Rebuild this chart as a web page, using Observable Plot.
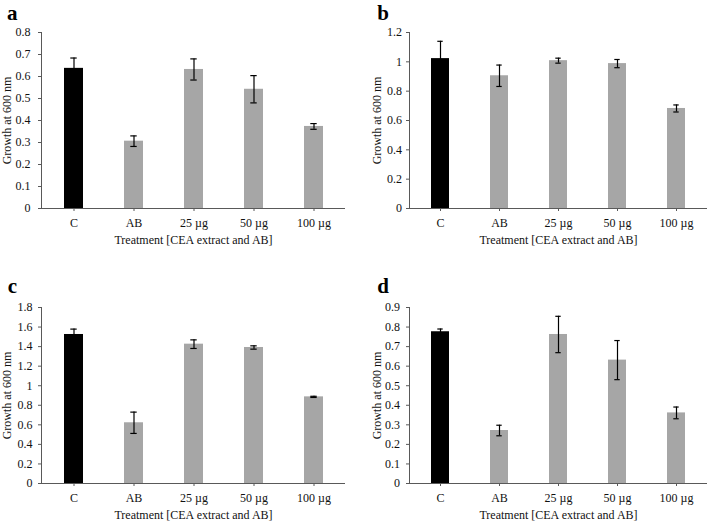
<!DOCTYPE html>
<html>
<head>
<meta charset="utf-8">
<script src="https://cdn.jsdelivr.net/npm/d3@7"></script>
<script src="https://cdn.jsdelivr.net/npm/@observablehq/plot@0.6"></script>
<style>
  html, body { margin: 0; padding: 0; background: #fff; }
  #chart { position: relative; width: 709px; height: 522px; background: #fff; overflow: hidden; }
  #chart svg { position: absolute; }
</style>
</head>
<body>
<div id="chart"></div>
<script>
// Categories (x axis tick labels)
const categories = ["C", "AB", "25 µg", "50 µg", "100 µg"];

// Panel a
const growthA = [0.637, 0.306, 0.632, 0.542, 0.373];
const errA    = [0.047, 0.024, 0.048, 0.062, 0.013];
const yTicksA = [0, 0.1, 0.2, 0.3, 0.4, 0.5, 0.6, 0.7, 0.8];

// Panel b
const growthB = [1.022, 0.905, 1.008, 0.988, 0.682];
const errB    = [0.118, 0.073, 0.017, 0.028, 0.024];
const yTicksB = [0, 0.2, 0.4, 0.6, 0.8, 1, 1.2];

// Panel c
const growthC = [1.524, 0.621, 1.425, 1.391, 0.886];
const errC    = [0.055, 0.109, 0.044, 0.017, 0.006];
const yTicksC = [0, 0.2, 0.4, 0.6, 0.8, 1, 1.2, 1.4, 1.6, 1.8];

// Panel d
const growthD = [0.776, 0.271, 0.762, 0.631, 0.361];
const errD    = [0.014, 0.027, 0.093, 0.100, 0.030];
const yTicksD = [0, 0.1, 0.2, 0.3, 0.4, 0.5, 0.6, 0.7, 0.8, 0.9];

const panelLetters = ["a", "b", "c", "d"];
const xTitle = "Treatment [CEA extract and AB]";
const yTitle = "Growth at 600 nm";

const panels = [
  {letter: panelLetters[0], values: growthA, errs: errA, ticks: yTicksA,
   left: 0, top: 0, width: 354, mL: 41, mR: 9, mT: 32, mB: 53,
   yPad: 8, yTitleDx: -30.3, letterDx: -34.5, letterDy: -13},
  {letter: panelLetters[1], values: growthB, errs: errB, ticks: yTicksB,
   left: 354, top: 0, width: 355, mL: 55, mR: 2, mT: 32, mB: 53,
   yPad: 4.5, yTitleDx: -28.3, letterDx: -32.3, letterDy: -13},
  {letter: panelLetters[2], values: growthC, errs: errC, ticks: yTicksC,
   left: 0, top: 261, width: 354, mL: 41, mR: 9, mT: 46, mB: 39,
   yPad: 6, yTitleDx: -30.3, letterDx: -33.7, letterDy: -14.3},
  {letter: panelLetters[3], values: growthD, errs: errD, ticks: yTicksD,
   left: 354, top: 261, width: 355, mL: 55, mR: 2, mT: 46, mB: 39,
   yPad: 6.5, yTitleDx: -28.3, letterDx: -32.3, letterDy: -14.3}
];

const fmt = d => String(Math.round(d * 10) / 10);
const axisGray = "#595959";
const textColor = "#111";
const chart = document.getElementById("chart");

for (const p of panels) {
  const rows = categories.map((c, i) => ({cat: c, v: p.values[i], e: p.errs[i]}));
  const yMax = p.ticks[p.ticks.length - 1];
  const svg = Plot.plot({
    width: p.width,
    height: 261,
    marginLeft: p.mL,
    marginRight: p.mR,
    marginTop: p.mT,
    marginBottom: p.mB,
    style: {fontFamily: "'Liberation Serif', 'Times New Roman', serif", fontSize: "12px", color: textColor, background: "white", overflow: "visible"},
    x: {domain: categories, paddingInner: 0.69, paddingOuter: 0.345, label: null},
    y: {domain: [0, yMax], label: null},
    color: {type: "identity"},
    marks: [
      Plot.barY(rows, {x: "cat", y: "v", fill: d => d.cat === "C" ? "#000000" : "#a6a6a6"}),
      Plot.ruleX(rows, {x: "cat", y1: d => d.v - d.e, y2: d => d.v + d.e, stroke: "#000", strokeWidth: 1.2}),
      Plot.tickY(rows, {x: "cat", y: d => d.v + d.e, stroke: "#000", strokeWidth: 1.2, insetLeft: 6.3, insetRight: 6.3}),
      Plot.tickY(rows, {x: "cat", y: d => d.v - d.e, stroke: "#000", strokeWidth: 1.2, insetLeft: 6.3, insetRight: 6.3}),
      Plot.axisY({ticks: p.ticks, tickFormat: fmt, tickSize: 3, tickPadding: p.yPad, label: null, stroke: axisGray, fill: textColor}),
      Plot.axisX({tickSize: 3, tickPadding: 6.5, label: null, stroke: axisGray, fill: textColor}),
      Plot.frame({anchor: "left", stroke: axisGray}),
      Plot.ruleY([0], {stroke: axisGray}),
      Plot.text([yTitle], {text: d => d, frameAnchor: "left", rotate: -90, textAnchor: "middle", lineAnchor: "bottom", dx: p.yTitleDx, fill: textColor}),
      Plot.text([xTitle], {text: d => d, frameAnchor: "bottom", textAnchor: "middle", lineAnchor: "bottom", dy: 35, fill: textColor}),
      Plot.text([p.letter], {text: d => d, frameAnchor: "top-left", textAnchor: "start", lineAnchor: "bottom", dx: p.letterDx, dy: p.letterDy, fontSize: 21, fontWeight: "bold", fill: "#000"})
    ]
  });
  svg.style.left = p.left + "px";
  svg.style.top = p.top + "px";
  chart.appendChild(svg);
}
</script>
</body>
</html>
